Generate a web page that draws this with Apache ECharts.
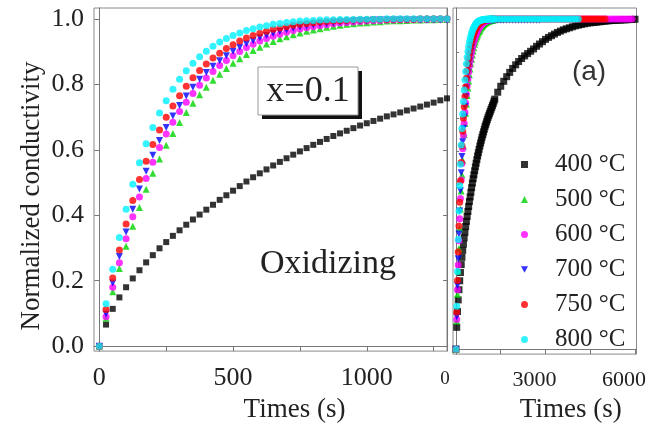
<!DOCTYPE html>
<html>
<head>
<meta charset="utf-8">
<title>Normalized conductivity</title>
<script src="https://cdn.jsdelivr.net/npm/echarts@6/dist/echarts.min.js"></script>
</head>
<body style="margin:0;background:#fff">
<div id="main" style="width:649px;height:428px"></div>
<script type="text/javascript">
var myChart = echarts.init(document.getElementById('main'));

// sampling times (s), shared by every series
var times = [0,25,50,75,100,125,150,175,200,225,250,275,300,325,350,375,400,425,450,475,500,
  525,550,575,600,625,650,675,700,725,750,775,800,825,850,875,900,925,950,975,1000,
  1025,1050,1075,1100,1125,1150,1175,1200,1225,1250,1275,1300,
  1400,1500,1600,1700,1800,1900,2000,2100,2200,2300,2400,2500,2600,2700,2800,2900,3000,
  3100,3200,3300,3400,3500,3600,3700,3800,3900,4000,4100,4200,4300,4400,4500,4600,4700,
  4800,4900,5000,5100,5200,5300,5400,5500,5600,5700,5800,5900,6000];

var names = ['400 °C', '500 °C', '600 °C', '700 °C', '750 °C', '800 °C'];
var colors = ['#000000', '#00d400', '#ff00ff', '#0000ff', '#ff0000', '#00f0ff'];
var symbols = ['rect', 'triangle', 'circle', 'path://M0,0L10,0L5,9Z', 'circle', 'circle'];

// normalized conductivity
var v400 = [0,0.066,0.114,0.149,0.180,0.207,0.232,0.256,0.278,0.299,0.318,0.337,0.354,0.371,0.387,0.402,
  0.417,0.432,0.447,0.461,0.475,0.489,0.503,0.516,0.528,0.540,0.552,0.563,0.574,0.585,0.595,0.605,
  0.615,0.624,0.633,0.642,0.650,0.658,0.666,0.674,0.681,0.688,0.695,0.702,0.708,0.714,0.720,0.726,
  0.732,0.738,0.744,0.751,0.757,
  0.778,0.796,0.811,0.825,0.838,0.850,0.861,0.871,0.880,0.888,0.895,0.902,0.909,0.917,0.924,0.931,
  0.938,0.944,0.949,0.954,0.959,0.963,0.967,0.970,0.973,0.976,0.979,0.981,0.983,0.985,0.987,0.988,
  0.989,0.990,0.991,0.992,0.993,0.994,0.995,0.995,0.996,0.996,0.997,0.997,0.998,0.998,0.999];
var v500 = [0,0.085,0.166,0.237,0.305,0.366,0.424,0.479,0.528,0.572,0.614,0.650,0.683,0.714,0.742,0.768,
  0.791,0.812,0.831,0.848,0.864,0.878,0.891,0.903,0.913,0.923,0.931,0.939,0.945,0.951,0.957,0.962,
  0.966,0.970,0.974,0.977,0.980,0.983,0.985,0.987,0.988,0.990,0.991,0.993,0.994,0.994,0.995,0.996,
  0.996,0.997,0.997,0.998,0.998,
  0.999,0.999];
var v600 = [0,0.090,0.180,0.255,0.328,0.395,0.456,0.512,0.562,0.607,0.648,0.684,0.717,0.745,0.772,0.797,
  0.819,0.839,0.857,0.873,0.887,0.900,0.912,0.922,0.932,0.940,0.947,0.953,0.959,0.964,0.969,0.973,
  0.976,0.979,0.982,0.985,0.987,0.989,0.990,0.992,0.993,0.994,0.995,0.996,0.996,0.997,0.997,0.998,
  0.998,0.998,0.999,0.999,0.999,
  1,1,1,1,1,1,1,1,1,1, 1,1,1,1,1,1,1,1,1,1, 1,1,1,1,1,1,1,1,1,1, 1,1,1,1,1,1,1,1,1,1, 1,1,1,1,1,1];
var v700 = [0,0.098,0.193,0.274,0.349,0.418,0.480,0.534,0.583,0.628,0.668,0.703,0.735,0.764,0.791,0.815,
  0.836,0.855,0.872,0.887,0.901,0.913,0.924,0.933,0.942,0.949,0.955,0.961,0.966,0.971,0.975,0.978,
  0.981,0.984,0.986,0.988,0.990,0.992,0.993,0.994,0.995,0.996,0.996,0.996,0.996,0.996,0.996,0.996,
  0.996,0.996,0.996,0.996,0.996,
  0.996,0.996,0.996,0.996,0.996,0.996,0.996,0.996,0.996,0.996,0.996,0.996,0.996,0.996,0.996];
var v750 = [0,0.112,0.208,0.294,0.373,0.445,0.509,0.565,0.616,0.660,0.699,0.734,0.765,0.794,0.820,0.842,
  0.862,0.880,0.895,0.909,0.921,0.932,0.941,0.949,0.956,0.962,0.968,0.972,0.976,0.980,0.983,0.986,
  0.988,0.990,0.992,0.993,0.994,0.995,0.996,0.997,0.997,0.998,0.998,0.998,0.999,0.999,0.999,0.999,
  1,1,1,1,1,
  1,1,1,1,1,1,1,1,1,1, 1,1,1,1,1,1,1,1,1,1, 1,1,1,1,1,1,1,1,1,1, 1,1,1,1,1,1,1];
var v800 = [0,0.130,0.235,0.332,0.418,0.495,0.560,0.618,0.668,0.712,0.750,0.785,0.815,0.841,0.864,0.884,
  0.901,0.916,0.929,0.940,0.949,0.957,0.964,0.970,0.975,0.979,0.983,0.986,0.989,0.991,0.993,0.994,
  0.995,0.996,0.997,0.997,0.998,0.998,0.998,0.999,0.999,0.999,0.999,1,1,1,1,1,
  1,1,1,1,1,
  1,1,1,1,1,1,1,1,1,1, 1,1,1,1,1,1,1,1,1,1, 1,1,1,1,1,1,1,1];
var values = [v400, v500, v600, v700, v750, v800];

var xTicksLeft = [0, 500, 1000];
var xMinorLeft = [0, 250, 500, 750, 1000, 1250];
var xTicksRight = [0, 3000, 6000];
var xMinorRight = [0, 1500, 3000, 4500, 6000];
var yTicks = [0, 0.2, 0.4, 0.6, 0.8, 1.0];
var yMinor = [0, 0.1, 0.2, 0.3, 0.4, 0.5, 0.6, 0.7, 0.8, 0.9, 1.0];

var serif = '"Liberation Serif", "Times New Roman", serif';
var axisGray = '#777';

var series = [];
[0, 1].forEach(function (g) {
    values.forEach(function (vals, k) {
        series.push({
            type: 'scatter',
            name: names[k],
            xAxisIndex: g === 0 ? 0 : 1,
            yAxisIndex: g === 0 ? 0 : 2,
            symbol: symbols[k],
            symbolSize: g === 0 ? (k === 0 ? 6 : 7) : 7,
            itemStyle: { color: colors[k] },
            silent: true,
            data: vals.map(function (v, i) { return [times[i], v]; })
        });
    });
});

var option = {
    animation: false,
    grid: [
        { left: 94, top: 8, width: 353, height: 352, show: true, borderColor: '#8a8a8a', borderWidth: 1 },
        { left: 453, top: 8, width: 184, height: 352, show: true, borderColor: '#8a8a8a', borderWidth: 1 }
    ],
    legend: {
        orient: 'vertical',
        left: 516,
        top: 146,
        itemWidth: 7,
        itemHeight: 7,
        itemGap: 8,
        data: names,
        textStyle: { fontFamily: serif, fontSize: 25, color: '#222', lineHeight: 27, padding: [0, 0, 0, 22] }
    },
    xAxis: [
        {
            gridIndex: 0, type: 'value', min: -20, max: 1300,
            axisLine: { lineStyle: { color: axisGray } },
            axisTick: { customValues: xMinorLeft, length: 5, lineStyle: { color: axisGray } },
            axisLabel: {
                customValues: xTicksLeft, fontFamily: serif, fontSize: 26, color: '#222', margin: 14,
                formatter: function (v) { return String(v); }
            },
            splitLine: { show: false },
            name: 'Times (s)', nameLocation: 'middle', nameGap: 34,
            nameTextStyle: { fontFamily: serif, fontSize: 27, color: '#222', padding: [0, 0, 0, 48] }
        },
        {
            gridIndex: 1, type: 'value', min: -100, max: 6050,
            axisLine: { lineStyle: { color: axisGray } },
            axisTick: { customValues: xMinorRight, length: 5, lineStyle: { color: axisGray } },
            axisLabel: {
                customValues: xTicksRight, fontFamily: serif, fontSize: 22, color: '#222', margin: 15,
                formatter: function (v) { return v === 0 ? '{z|0}' : '{n|' + v + '}'; },
                rich: {
                    z: { fontFamily: serif, fontSize: 19, color: '#222', padding: [0, 22, 0, 0] },
                    n: { fontFamily: serif, fontSize: 22, color: '#222', padding: [0, 22, 0, 0] }
                }
            },
            splitLine: { show: false },
            name: 'Times (s)', nameLocation: 'middle', nameGap: 34,
            nameTextStyle: { fontFamily: serif, fontSize: 27, color: '#222', padding: [0, 0, 0, 52] }
        }
    ],
    yAxis: [
        {
            gridIndex: 0, type: 'value', min: -0.015, max: 1.033,
            axisLine: { show: true, lineStyle: { color: axisGray } },
            axisTick: { show: true, customValues: yTicks, length: 5, lineStyle: { color: axisGray } },
            axisLabel: {
                customValues: yTicks, fontFamily: serif, fontSize: 26, color: '#222', margin: 10,
                formatter: function (v) { return v.toFixed(1); }
            },
            splitLine: { show: false }
        },
        {
            gridIndex: 0, type: 'value', min: -0.015, max: 1.033, position: 'right',
            axisLine: { show: true, lineStyle: { color: axisGray } },
            axisTick: { show: true, inside: true, customValues: yTicks, length: 4, lineStyle: { color: axisGray } },
            axisLabel: { show: false },
            splitLine: { show: false }
        },
        {
            gridIndex: 1, type: 'value', min: -0.015, max: 1.033,
            axisLine: { show: true, lineStyle: { color: axisGray } },
            axisTick: { show: true, inside: true, customValues: yMinor, length: 3, lineStyle: { color: axisGray } },
            axisLabel: { show: false },
            splitLine: { show: false }
        }
    ],
    graphic: [
        { type: 'text', x: 32, y: 196, rotation: Math.PI / 2,
            style: { text: 'Normalized conductivity', align: 'center', verticalAlign: 'middle',
                fontFamily: serif, fontSize: 27, fill: '#222' } },
        { type: 'rect', shape: { x: 262, y: 71, width: 100, height: 48 }, style: { fill: '#111' }, z: 10 },
        { type: 'rect', shape: { x: 258, y: 67, width: 100, height: 48 }, style: { fill: '#fff', stroke: '#999', lineWidth: 1 }, z: 11 },
        { type: 'text', z: 12, style: { text: 'x=0.1', x: 308, y: 92, align: 'center', verticalAlign: 'middle',
            fontFamily: serif, fontSize: 36, fill: '#222' } },
        { type: 'text', z: 12, style: { text: 'Oxidizing', x: 328, y: 264, align: 'center', verticalAlign: 'middle',
            fontFamily: serif, fontSize: 34, fill: '#222' } },
        { type: 'text', z: 12, style: { text: '(a)', x: 589, y: 72, align: 'center', verticalAlign: 'middle',
            fontFamily: '"Liberation Sans", Arial, sans-serif', fontSize: 28, fill: '#333' } }
    ],
    series: series
};

myChart.setOption(option);
</script>
</body>
</html>
